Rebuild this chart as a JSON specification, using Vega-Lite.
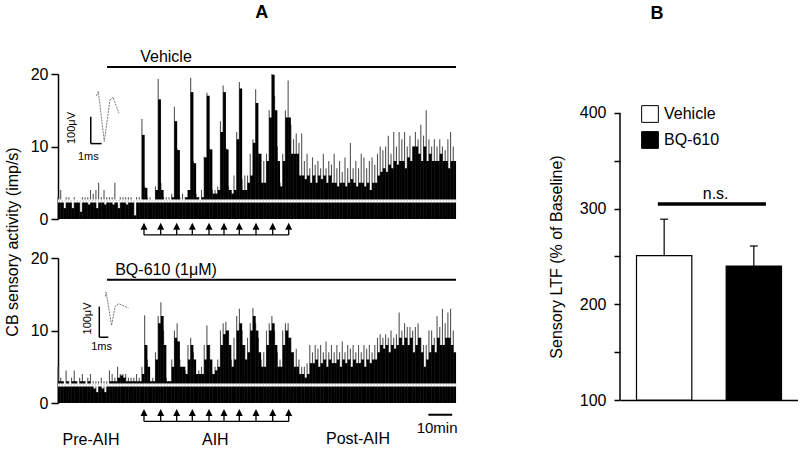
{
"$schema": "https://vega.github.io/schema/vega-lite/v6.json",
"padding": {"left": 5, "top": 4, "right": 0, "bottom": 0},
"bounds": "full",
"spacing": 90,
"resolve": {"scale": {"fill": "independent"}, "legend": {"fill": "independent"}},
"config": {
  "font": "Liberation Sans",
  "view": {"stroke": null},
  "axis": {"domainColor": "#000", "tickColor": "#000", "labelColor": "#000", "titleColor": "#000", "labelFontSize": 16, "titleFontSize": 16, "titleFontWeight": "normal", "grid": false, "domainWidth": 1.5, "tickWidth": 1.5},
  "text": {"fontSize": 16, "fill": "#000"}
},
"datasets": {
  "hist": [
{"t":0,"a":2.5,"am":3,"b":3,"bm":5},{"t":1,"a":2.5,"am":4,"b":3,"bm":3.5},{"t":2,"a":1.5,"am":2.5,"b":2.5,"bm":3},{"t":3,"a":2.5,"am":3,"b":3,"bm":4.5},{"t":4,"a":2.5,"am":3,"b":2.5,"bm":3},
{"t":5,"a":1.5,"am":2.5,"b":3,"bm":3.5},{"t":6,"a":2.5,"am":3,"b":3,"bm":4.5},{"t":7,"a":2.5,"am":2.5,"b":2.5,"bm":3},{"t":8,"a":1,"am":2.5,"b":3,"bm":3.5},{"t":9,"a":2.5,"am":3,"b":3,"bm":4},
{"t":10,"a":2.5,"am":3,"b":2.5,"bm":3},{"t":11,"a":2,"am":3,"b":3,"bm":3.5},{"t":12,"a":2.5,"am":4,"b":2.5,"bm":4},{"t":13,"a":2.5,"am":3.5,"b":2,"bm":3},{"t":14,"a":1.5,"am":4,"b":1.5,"bm":3},
{"t":15,"a":2.5,"am":5,"b":2.5,"bm":3},{"t":16,"a":2.5,"am":3,"b":2,"bm":3.5},{"t":17,"a":2,"am":4,"b":1.5,"bm":3},{"t":18,"a":2.5,"am":3,"b":2.5,"bm":3},{"t":19,"a":2.5,"am":3,"b":3,"bm":4.5},
{"t":20,"a":2,"am":3,"b":3,"bm":4},{"t":21,"a":2.5,"am":5,"b":3,"bm":3.5},{"t":22,"a":1.5,"am":2.5,"b":3.5,"bm":5},{"t":23,"a":2.5,"am":3,"b":3.8,"bm":4},{"t":24,"a":2.5,"am":3,"b":3.5,"bm":4},
{"t":25,"a":2,"am":3,"b":3,"bm":4},{"t":26,"a":2.5,"am":3,"b":3,"bm":3.5},{"t":27,"a":2.5,"am":3,"b":3,"bm":3.5},{"t":28,"a":0.5,"am":2.5,"b":3,"bm":3.5},{"t":29,"a":2.5,"am":3,"b":3,"bm":4},
{"t":30,"a":2.5,"am":3,"b":3,"bm":3.5},{"t":31,"a":11.6,"am":13.8,"b":4,"bm":5},{"t":32,"a":4.3,"am":4.5,"b":8,"bm":12.1},{"t":33,"a":2.5,"am":3,"b":5,"bm":6},{"t":34,"a":2.5,"am":3,"b":3,"bm":3},
{"t":35,"a":2.5,"am":2.5,"b":3,"bm":3.5},{"t":36,"a":4,"am":4.5,"b":6,"bm":7},{"t":37,"a":16.5,"am":19.3,"b":11,"bm":12},{"t":38,"a":4,"am":5,"b":12,"bm":13.9},{"t":39,"a":2.5,"am":3,"b":8,"bm":10},
{"t":40,"a":2.5,"am":3,"b":3,"bm":3.5},{"t":41,"a":2.5,"am":3,"b":3,"bm":3},{"t":42,"a":3,"am":3.5,"b":5,"bm":6},{"t":43,"a":13.5,"am":15.5,"b":9,"bm":10},{"t":44,"a":9.5,"am":9.7,"b":8.5,"bm":11},
{"t":45,"a":2.5,"am":3,"b":5,"bm":6},{"t":46,"a":2.5,"am":3.5,"b":5,"bm":5},{"t":47,"a":3,"am":3,"b":4,"bm":4.5},{"t":48,"a":4,"am":4,"b":6,"bm":8},{"t":49,"a":17.5,"am":19.5,"b":8,"bm":9},
{"t":50,"a":7.7,"am":8,"b":6,"bm":7},{"t":51,"a":3,"am":3.5,"b":4,"bm":4},{"t":52,"a":2.5,"am":3,"b":4,"bm":4.5},{"t":53,"a":3,"am":4,"b":4,"bm":5},{"t":54,"a":8.5,"am":8.6,"b":6,"bm":8},
{"t":55,"a":17,"am":17.4,"b":8,"bm":10.7},{"t":56,"a":9.6,"am":9.7,"b":6,"bm":8},{"t":57,"a":3.5,"am":4,"b":4,"bm":4},{"t":58,"a":3.5,"am":4,"b":4.5,"bm":5},{"t":59,"a":4,"am":4.5,"b":5,"bm":6},
{"t":60,"a":12,"am":13.5,"b":8,"bm":10},{"t":61,"a":17.5,"am":18.4,"b":9.5,"bm":11},{"t":62,"a":9.6,"am":9.8,"b":10,"bm":11.2},{"t":63,"a":4,"am":4.5,"b":8,"bm":10},{"t":64,"a":3.5,"am":4,"b":5,"bm":6},
{"t":65,"a":4,"am":6,"b":6,"bm":9},{"t":66,"a":11,"am":12,"b":10,"bm":12},{"t":67,"a":18,"am":18.9,"b":11,"bm":13},{"t":68,"a":4,"am":5.5,"b":8,"bm":10},{"t":69,"a":4,"am":6,"b":6,"bm":8},
{"t":70,"a":5,"am":6,"b":7,"bm":9},{"t":71,"a":6,"am":9,"b":10,"bm":11},{"t":72,"a":10.5,"am":11,"b":12,"bm":13.1},{"t":73,"a":16,"am":17.9,"b":10,"bm":11},{"t":74,"a":9,"am":9,"b":7,"bm":9},
{"t":75,"a":5,"am":9,"b":5,"bm":6},{"t":76,"a":5,"am":8,"b":5,"bm":7},{"t":77,"a":8,"am":9,"b":8,"bm":10},{"t":78,"a":14,"am":15,"b":10,"bm":11},{"t":79,"a":19.9,"am":20,"b":11,"bm":12},
{"t":80,"a":15,"am":17,"b":8,"bm":10},{"t":81,"a":8,"am":10,"b":5,"bm":7},{"t":82,"a":4.5,"am":5,"b":5,"bm":6},{"t":83,"a":8,"am":9,"b":8,"bm":10},{"t":84,"a":14,"am":15,"b":10,"bm":11},
{"t":85,"a":14,"am":19.1,"b":9,"bm":11},{"t":86,"a":9,"am":13,"b":7,"bm":9},{"t":87,"a":9,"am":11,"b":5,"bm":7},{"t":88,"a":9,"am":11.8,"b":5,"bm":7.5},{"t":89,"a":6,"am":10.5,"b":4,"bm":6},
{"t":90,"a":6,"am":11.8,"b":4,"bm":5},{"t":91,"a":5.5,"am":8,"b":3.5,"bm":5},{"t":92,"a":6,"am":9,"b":4,"bm":5.5},{"t":93,"a":5,"am":7,"b":5.5,"bm":8},{"t":94,"a":6,"am":8.5,"b":5.5,"bm":7},
{"t":95,"a":5,"am":7.5,"b":6,"bm":8},{"t":96,"a":6,"am":8,"b":5,"bm":7.5},{"t":97,"a":5.5,"am":7,"b":5.5,"bm":8},{"t":98,"a":6,"am":9,"b":6,"bm":7},{"t":99,"a":5,"am":7,"b":5,"bm":8.5},
{"t":100,"a":6,"am":8,"b":6,"bm":7},{"t":101,"a":5,"am":7.5,"b":5.5,"bm":8},{"t":102,"a":5,"am":9,"b":5.5,"bm":7},{"t":103,"a":4.5,"am":7,"b":6,"bm":8},{"t":104,"a":5,"am":8,"b":5,"bm":7},
{"t":105,"a":5,"am":6.5,"b":6,"bm":8.5},{"t":106,"a":4.5,"am":8.5,"b":5.5,"bm":7},{"t":107,"a":5,"am":7,"b":6,"bm":8},{"t":108,"a":5.5,"am":10.5,"b":5,"bm":7.5},{"t":109,"a":5,"am":7,"b":6,"bm":8},
{"t":110,"a":4.5,"am":8,"b":5.5,"bm":7},{"t":111,"a":5,"am":7,"b":5.5,"bm":8},{"t":112,"a":5,"am":9,"b":6,"bm":7},{"t":113,"a":4.5,"am":8.5,"b":5,"bm":8},{"t":114,"a":5,"am":7,"b":6,"bm":7.5},
{"t":115,"a":4,"am":8,"b":5.5,"bm":8},{"t":116,"a":5,"am":8.5,"b":6,"bm":7},{"t":117,"a":5,"am":7.5,"b":6,"bm":8},{"t":118,"a":6,"am":9,"b":7,"bm":9},{"t":119,"a":6.5,"am":10,"b":8,"bm":9.5},
{"t":120,"a":7,"am":9.5,"b":7.5,"bm":9},{"t":121,"a":6.5,"am":10,"b":8,"bm":9.5},{"t":122,"a":7.5,"am":11.5,"b":7,"bm":9},{"t":123,"a":7,"am":9,"b":8,"bm":10},{"t":124,"a":8,"am":12,"b":7.5,"bm":9},
{"t":125,"a":7.5,"am":10,"b":8,"bm":9.5},{"t":126,"a":8,"am":12,"b":9,"bm":12.5},{"t":127,"a":8,"am":11,"b":8,"bm":10},{"t":128,"a":7,"am":12,"b":9,"bm":11},{"t":129,"a":8.5,"am":10,"b":8,"bm":10.5},
{"t":130,"a":8,"am":11.5,"b":9,"bm":10.5},{"t":131,"a":10,"am":10,"b":7,"bm":10},{"t":132,"a":10,"am":12,"b":8,"bm":10.5},{"t":133,"a":9,"am":11,"b":9,"bm":11},{"t":134,"a":8,"am":13,"b":7,"bm":9},
{"t":135,"a":10,"am":11.5,"b":5,"bm":8},{"t":136,"a":8,"am":15,"b":6,"bm":8},{"t":137,"a":9,"am":11,"b":7,"bm":10},{"t":138,"a":8,"am":10,"b":8,"bm":10},{"t":139,"a":8,"am":11,"b":7,"bm":9},
{"t":140,"a":8,"am":10,"b":9,"bm":12},{"t":141,"a":9,"am":11,"b":8,"bm":10.5},{"t":142,"a":8,"am":10,"b":8,"bm":13},{"t":143,"a":8,"am":9.5,"b":9,"bm":11},{"t":144,"a":7,"am":11,"b":9,"bm":12.5},
{"t":145,"a":8,"am":12,"b":8,"bm":13},{"t":146,"a":8,"am":10,"b":7,"bm":10}
  ],
  "arrows": [{"t":31.76},{"t":37.93},{"t":43.84},{"t":49.6},{"t":55.77},{"t":61.31},{"t":66.96},{"t":73.13},{"t":79.3},{"t":85.21}],
  "wave": [
    {"p":"veh","i":0,"t":14.2,"v":17.0},{"p":"veh","i":1,"t":14.9,"v":17.6},{"p":"veh","i":2,"t":17.1,"v":10.7},{"p":"veh","i":3,"t":19.2,"v":16.4},{"p":"veh","i":4,"t":20.3,"v":16.8},{"p":"veh","i":5,"t":21.1,"v":16.0},{"p":"veh","i":6,"t":22.5,"v":14.6},
    {"p":"bq","i":0,"t":17.5,"v":14.7},{"p":"bq","i":1,"t":17.8,"v":15.3},{"p":"bq","i":2,"t":19.8,"v":10.7},{"p":"bq","i":3,"t":21.05,"v":13.3},{"p":"bq","i":4,"t":22.5,"v":13.7},{"p":"bq","i":5,"t":26.0,"v":13.1}
  ],
  "ltf": [{"g":"Vehicle","m":251,"hi":289},{"g":"BQ-610","m":240,"hi":261}]
},
"hconcat": [
  {"vconcat": [
    {"width": 398, "height": 145,
     "layer": [
      {"data": {"name": "hist"}, "mark": {"type": "rule", "color": "#555", "strokeWidth": 1.1},
       "encoding": {"x": {"field": "t", "type": "quantitative", "scale": {"domain": [0, 147], "nice": false, "zero": false, "padding": 0}, "axis": null},
                    "y": {"field": "am", "type": "quantitative", "scale": {"domain": [0, 20], "nice": false, "padding": 0}, "axis": {"values": [0, 10, 20], "title": null, "tickSize": 7, "labelPadding": 3}},
                    "y2": {"datum": 0}}},
      {"data": {"name": "hist"}, "mark": {"type": "bar", "color": "#000", "width": 2.8, "xOffset": 1.35},
       "encoding": {"x": {"field": "t", "type": "quantitative"}, "y": {"field": "a", "type": "quantitative"}}},
      {"data": {"values": [{}]}, "mark": {"type": "rule", "color": "#fff", "strokeWidth": 3}, "encoding": {"y": {"datum": 2.5}}},
      {"data": {"values": [{}]}, "mark": {"type": "rule", "color": "#aaa", "strokeWidth": 0.8, "strokeDash": [1.5, 1.5]}, "encoding": {"y": {"datum": 2.5}}},
      {"data": {"values": [{}]}, "mark": {"type": "rule", "color": "#000", "strokeWidth": 2}, "encoding": {"x": {"datum": 18.1}, "x2": {"datum": 147}, "y": {"datum": 20.97}}},
      {"data": {"values": [{}]}, "mark": {"type": "text", "text": "Vehicle", "fontSize": 16}, "encoding": {"x": {"datum": 39.9}, "y": {"datum": 22.4}}},
      {"data": {"name": "arrows"}, "mark": {"type": "point", "shape": "M-1,1L0,-1L1,1Z", "size": 49, "filled": true, "color": "#000", "opacity": 1}, "encoding": {"x": {"field": "t", "type": "quantitative"}, "y": {"datum": -1.0}}},
      {"data": {"name": "arrows"}, "mark": {"type": "rule", "color": "#000", "strokeWidth": 1.3}, "encoding": {"x": {"field": "t", "type": "quantitative"}, "y": {"datum": -1.0}, "y2": {"datum": -2.2}}},
      {"data": {"name": "arrows"}, "mark": {"type": "line", "color": "#000", "strokeWidth": 1.3}, "encoding": {"x": {"field": "t", "type": "quantitative"}, "y": {"datum": -2.2}}},
      {"data": {"name": "wave"}, "transform": [{"filter": "datum.p === 'veh'"}], "mark": {"type": "line", "color": "#777", "strokeWidth": 1, "strokeDash": [2, 1]}, "encoding": {"x": {"field": "t", "type": "quantitative"}, "y": {"field": "v", "type": "quantitative"}, "order": {"field": "i"}}},
      {"data": {"values": [{}]}, "mark": {"type": "rule", "color": "#000", "strokeWidth": 1.5}, "encoding": {"x": {"datum": 12.1}, "y": {"datum": 10.4}, "y2": {"datum": 14.1}}},
      {"data": {"values": [{}]}, "mark": {"type": "rule", "color": "#000", "strokeWidth": 1.5}, "encoding": {"x": {"datum": 12.1}, "x2": {"datum": 16.1}, "y": {"datum": 10.4}}},
      {"data": {"values": [{}]}, "mark": {"type": "text", "text": "100μV", "fontSize": 11, "angle": 270}, "encoding": {"x": {"datum": 5.35}, "y": {"datum": 12.55}}},
      {"data": {"values": [{}]}, "mark": {"type": "text", "text": "1ms", "fontSize": 11}, "encoding": {"x": {"datum": 11.2}, "y": {"datum": 8.6}}},
      {"data": {"values": [{}]}, "mark": {"type": "text", "text": "CB sensory activity (imp/s)", "fontSize": 16, "angle": 270}, "encoding": {"x": {"datum": -16.6}, "y": {"datum": -3.17}}},
      {"data": {"values": [{}]}, "mark": {"type": "text", "text": "A", "fontSize": 18, "fontWeight": "bold"}, "encoding": {"x": {"datum": 75.3}, "y": {"datum": 28.4}}}
     ]},
    {"width": 398, "height": 145,
     "layer": [
      {"data": {"name": "hist"}, "mark": {"type": "rule", "color": "#555", "strokeWidth": 1.1},
       "encoding": {"x": {"field": "t", "type": "quantitative", "scale": {"domain": [0, 147], "nice": false, "zero": false, "padding": 0}, "axis": null},
                    "y": {"field": "bm", "type": "quantitative", "scale": {"domain": [0, 20], "nice": false, "padding": 0}, "axis": {"values": [0, 10, 20], "title": null, "tickSize": 7, "labelPadding": 3}},
                    "y2": {"datum": 0}}},
      {"data": {"name": "hist"}, "mark": {"type": "bar", "color": "#000", "width": 2.8, "xOffset": 1.35},
       "encoding": {"x": {"field": "t", "type": "quantitative"}, "y": {"field": "b", "type": "quantitative"}}},
      {"data": {"values": [{}]}, "mark": {"type": "rule", "color": "#fff", "strokeWidth": 3}, "encoding": {"y": {"datum": 2.5}}},
      {"data": {"values": [{}]}, "mark": {"type": "rule", "color": "#aaa", "strokeWidth": 0.8, "strokeDash": [1.5, 1.5]}, "encoding": {"y": {"datum": 2.5}}},
      {"data": {"values": [{}]}, "mark": {"type": "rule", "color": "#000", "strokeWidth": 2}, "encoding": {"x": {"datum": 18.1}, "x2": {"datum": 147}, "y": {"datum": 17.0}}},
      {"data": {"values": [{}]}, "mark": {"type": "text", "text": "BQ-610 (1μM)", "fontSize": 16}, "encoding": {"x": {"datum": 39.9}, "y": {"datum": 18.3}}},
      {"data": {"name": "arrows"}, "mark": {"type": "point", "shape": "M-1,1L0,-1L1,1Z", "size": 49, "filled": true, "color": "#000", "opacity": 1}, "encoding": {"x": {"field": "t", "type": "quantitative"}, "y": {"datum": -1.3}}},
      {"data": {"name": "arrows"}, "mark": {"type": "rule", "color": "#000", "strokeWidth": 1.3}, "encoding": {"x": {"field": "t", "type": "quantitative"}, "y": {"datum": -1.3}, "y2": {"datum": -2.54}}},
      {"data": {"name": "arrows"}, "mark": {"type": "line", "color": "#000", "strokeWidth": 1.3}, "encoding": {"x": {"field": "t", "type": "quantitative"}, "y": {"datum": -2.54}}},
      {"data": {"name": "wave"}, "transform": [{"filter": "datum.p === 'bq'"}], "mark": {"type": "line", "color": "#777", "strokeWidth": 1, "strokeDash": [2, 1]}, "encoding": {"x": {"field": "t", "type": "quantitative"}, "y": {"field": "v", "type": "quantitative"}, "order": {"field": "i"}}},
      {"data": {"values": [{}]}, "mark": {"type": "rule", "color": "#000", "strokeWidth": 1.5}, "encoding": {"x": {"datum": 15.25}, "y": {"datum": 9.07}, "y2": {"datum": 13.3}}},
      {"data": {"values": [{}]}, "mark": {"type": "rule", "color": "#000", "strokeWidth": 1.5}, "encoding": {"x": {"datum": 15.25}, "x2": {"datum": 18.6}, "y": {"datum": 9.07}}},
      {"data": {"values": [{}]}, "mark": {"type": "text", "text": "100μV", "fontSize": 11, "angle": 270}, "encoding": {"x": {"datum": 11.2}, "y": {"datum": 11.66}}},
      {"data": {"values": [{}]}, "mark": {"type": "text", "text": "1ms", "fontSize": 11}, "encoding": {"x": {"datum": 16.1}, "y": {"datum": 7.7}}},
      {"data": {"values": [{}]}, "mark": {"type": "rule", "color": "#000", "strokeWidth": 2}, "encoding": {"x": {"datum": 136.8}, "x2": {"datum": 145.6}, "y": {"datum": -1.62}}},
      {"data": {"values": [{}]}, "mark": {"type": "text", "text": "10min", "fontSize": 15}, "encoding": {"x": {"datum": 140.0}, "y": {"datum": -3.4}}},
      {"data": {"values": [{}]}, "mark": {"type": "text", "text": "Pre-AIH", "fontSize": 16}, "encoding": {"x": {"datum": 12.2}, "y": {"datum": -5.07}}},
      {"data": {"values": [{}]}, "mark": {"type": "text", "text": "AIH", "fontSize": 16}, "encoding": {"x": {"datum": 58.1}, "y": {"datum": -5.07}}},
      {"data": {"values": [{}]}, "mark": {"type": "text", "text": "Post-AIH", "fontSize": 16}, "encoding": {"x": {"datum": 110.8}, "y": {"datum": -4.98}}}
     ]}
  ], "spacing": 39, "bounds": "flush"},
  {"width": 178, "height": 326,
   "layer": [
    {"data": {"name": "ltf"}, "mark": {"type": "bar", "stroke": "#000", "strokeWidth": 1.2},
     "encoding": {
       "x": {"field": "g", "type": "nominal", "sort": null, "scale": {"domain": ["Vehicle", "BQ-610"], "paddingInner": 0.383, "paddingOuter": 0.184}, "axis": {"title": null, "labels": false, "ticks": false, "domain": true, "domainWidth": 1.5}},
       "y": {"field": "m", "type": "quantitative", "scale": {"domain": [100, 440.76], "nice": false, "zero": false, "padding": 0}, "axis": {"values": [100, 150, 200, 250, 300, 350, 400], "labelExpr": "datum.value % 100 === 0 ? datum.label : ''", "domain": false, "tickSize": 6, "labelPadding": 8, "title": "Sensory LTF (% of Baseline)", "titleX": -64, "titleY": 182.5, "titleBaseline": "middle"}},
       "y2": {"datum": 100},
       "fill": {"field": "g", "type": "nominal", "scale": {"domain": ["Vehicle", "BQ-610"], "range": ["#fff", "#000"]}, "legend": {"orient": "none", "legendX": 21, "legendY": 31, "title": null, "symbolType": "square", "symbolSize": 280, "symbolStrokeColor": "#000", "symbolStrokeWidth": 1, "labelFontSize": 16, "labelOffset": 5, "rowPadding": 4, "padding": 0}}
     }},
    {"data": {"name": "ltf"}, "mark": {"type": "rule", "strokeWidth": 1.2, "color": "#000"}, "encoding": {"x": {"field": "g", "type": "nominal"}, "y": {"field": "m", "type": "quantitative"}, "y2": {"field": "hi"}}},
    {"data": {"name": "ltf"}, "mark": {"type": "point", "shape": "M-1,0L1,0", "size": 64, "color": "#000", "strokeWidth": 1.2, "filled": false, "opacity": 1}, "encoding": {"x": {"field": "g", "type": "nominal"}, "y": {"field": "hi", "type": "quantitative"}}},
    {"data": {"values": [{}]}, "mark": {"type": "rule", "strokeWidth": 1.5, "color": "#000"}, "encoding": {"x": {"value": 0}, "y": {"datum": 100}, "y2": {"datum": 400}}},
    {"data": {"values": [{}]}, "mark": {"type": "rule", "strokeWidth": 3.5, "color": "#000", "xOffset": -6.3, "x2Offset": 12.1}, "encoding": {"x": {"datum": "Vehicle", "type": "nominal", "bandPosition": 0.5}, "x2": {"datum": "BQ-610", "bandPosition": 0.5}, "y": {"datum": 304.9}}},
    {"data": {"values": [{}]}, "mark": {"type": "text", "text": "n.s.", "fontSize": 16, "baseline": "alphabetic"}, "encoding": {"x": {"datum": "Vehicle", "type": "nominal", "bandPosition": 1.43}, "y": {"datum": 310.4}}},
    {"data": {"values": [{}]}, "mark": {"type": "text", "text": "B", "fontSize": 18, "fontWeight": "bold"}, "encoding": {"x": {"datum": "Vehicle", "type": "nominal", "bandPosition": 0.37}, "y": {"datum": 503.8}}}
   ]}
]
}
